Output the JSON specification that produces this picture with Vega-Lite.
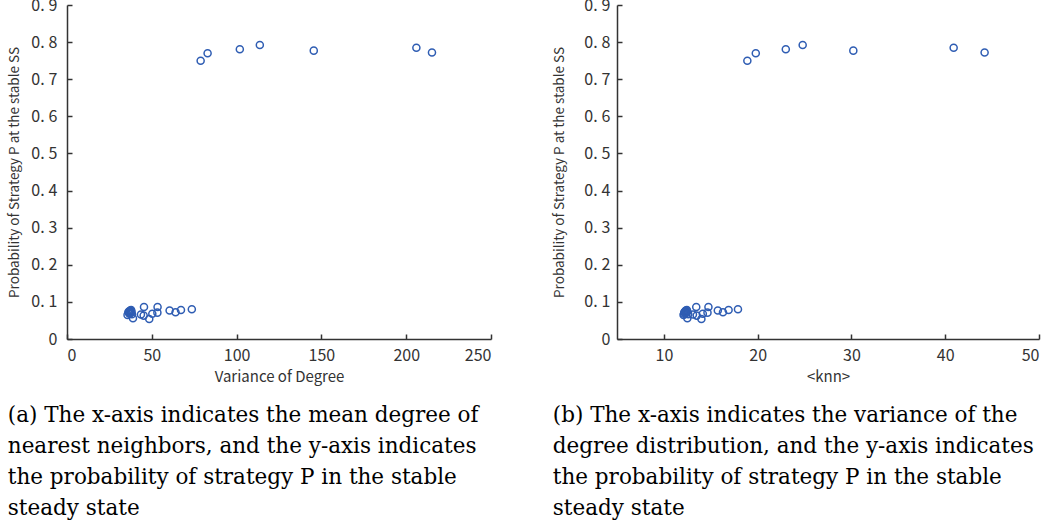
{
  "$schema": "https://vega.github.io/schema/vega-lite/v6.json",
  "padding": {"left": 7, "top": -3, "right": 6, "bottom": 0},
  "background": "white",
  "config": {
    "view": {"stroke": null},
    "axis": {
      "grid": false,
      "domainColor": "#333333",
      "domainWidth": 1.5,
      "tickColor": "#333333",
      "tickWidth": 1.5,
      "tickSize": -5,
      "labelFont": "Noto Sans CJK JP",
      "labelFontSize": 16,
      "labelColor": "#333333",
      "titleFont": "Noto Sans CJK JP",
      "titleFontSize": 15,
      "titleFontWeight": "normal",
      "titleColor": "#333333"
    },
    "axisY": {"titleFontSize": 13.5},
    "title": {
      "font": "DejaVu Serif",
      "fontSize": 21.5,
      "fontWeight": "normal",
      "color": "#000000",
      "lineHeight": 31,
      "orient": "bottom",
      "anchor": "start",
      "frame": "bounds",
      "offset": 21
    }
  },
  "data": {
    "values": [
      {"v": 78.8, "k": 18.9, "p": 0.750},
      {"v": 82.9, "k": 19.8, "p": 0.770},
      {"v": 101.9, "k": 23.0, "p": 0.781},
      {"v": 113.7, "k": 24.8, "p": 0.792},
      {"v": 145.5, "k": 30.2, "p": 0.777},
      {"v": 206.0, "k": 40.9, "p": 0.785},
      {"v": 215.2, "k": 44.2, "p": 0.772},
      {"v": 45.4, "k": 13.45, "p": 0.086},
      {"v": 53.4, "k": 14.75, "p": 0.086},
      {"v": 60.5, "k": 15.75, "p": 0.077},
      {"v": 64.0, "k": 16.3, "p": 0.072},
      {"v": 67.2, "k": 16.9, "p": 0.078},
      {"v": 73.6, "k": 17.9, "p": 0.080},
      {"v": 53.3, "k": 14.65, "p": 0.071},
      {"v": 50.3, "k": 14.15, "p": 0.068},
      {"v": 48.5, "k": 14.0, "p": 0.054},
      {"v": 45.2, "k": 13.5, "p": 0.063},
      {"v": 43.6, "k": 13.1, "p": 0.066},
      {"v": 38.9, "k": 12.5, "p": 0.056},
      {"v": 35.7, "k": 12.1, "p": 0.065},
      {"v": 36.5, "k": 12.2, "p": 0.072},
      {"v": 37.0, "k": 12.3, "p": 0.075},
      {"v": 37.6, "k": 12.4, "p": 0.070},
      {"v": 38.0, "k": 12.5, "p": 0.074},
      {"v": 36.8, "k": 12.15, "p": 0.068},
      {"v": 37.3, "k": 12.35, "p": 0.077},
      {"v": 38.3, "k": 12.6, "p": 0.067},
      {"v": 36.2, "k": 12.2, "p": 0.073},
      {"v": 37.8, "k": 12.45, "p": 0.078},
      {"v": 36.9, "k": 12.25, "p": 0.070}
    ]
  },
  "spacing": 60,
  "hconcat": [
    {
      "width": 424,
      "height": 334,
      "title": {"text": ["(a) The x-axis indicates the mean degree of", "nearest neighbors, and the y-axis indicates", "the probability of strategy P in the stable", "steady state"]},
      "mark": {"type": "point", "filled": false, "color": "#2F5DB3", "strokeWidth": 1.5, "size": 50, "opacity": 1},
      "encoding": {
        "x": {"field": "v", "type": "quantitative", "title": "Variance of Degree",
              "scale": {"domain": [0, 250], "nice": false, "zero": false},
              "axis": {"values": [0, 50, 100, 150, 200, 250], "labelPadding": 13, "titlePadding": 6}},
        "y": {"field": "p", "type": "quantitative", "title": "Probability of Strategy P at the stable SS",
              "scale": {"domain": [0, 0.9], "nice": false},
              "axis": {"values": [0, 0.1, 0.2, 0.3, 0.4, 0.5, 0.6, 0.7, 0.8, 0.9],
                       "labelExpr": "datum.value == 0 ? '0' : replace(format(datum.value, '.1f'), '.', '.\u2005')",
                       "labelPadding": 15, "titlePadding": 9}}
      }
    },
    {
      "width": 422,
      "height": 334,
      "title": {"text": ["(b) The x-axis indicates the variance of the", "degree distribution, and the y-axis indicates", "the probability of strategy P in the stable", "steady state"]},
      "mark": {"type": "point", "filled": false, "color": "#2F5DB3", "strokeWidth": 1.5, "size": 50, "opacity": 1},
      "encoding": {
        "x": {"field": "k", "type": "quantitative", "title": "<knn>",
              "scale": {"domain": [5, 50], "nice": false, "zero": false},
              "axis": {"values": [10, 20, 30, 40, 50], "labelPadding": 13, "titlePadding": 6}},
        "y": {"field": "p", "type": "quantitative", "title": "Probability of Strategy P at the stable SS",
              "scale": {"domain": [0, 0.9], "nice": false},
              "axis": {"values": [0, 0.1, 0.2, 0.3, 0.4, 0.5, 0.6, 0.7, 0.8, 0.9],
                       "labelExpr": "datum.value == 0 ? '0' : replace(format(datum.value, '.1f'), '.', '.\u2005')",
                       "labelPadding": 12, "titlePadding": 17}}
      }
    }
  ]
}
